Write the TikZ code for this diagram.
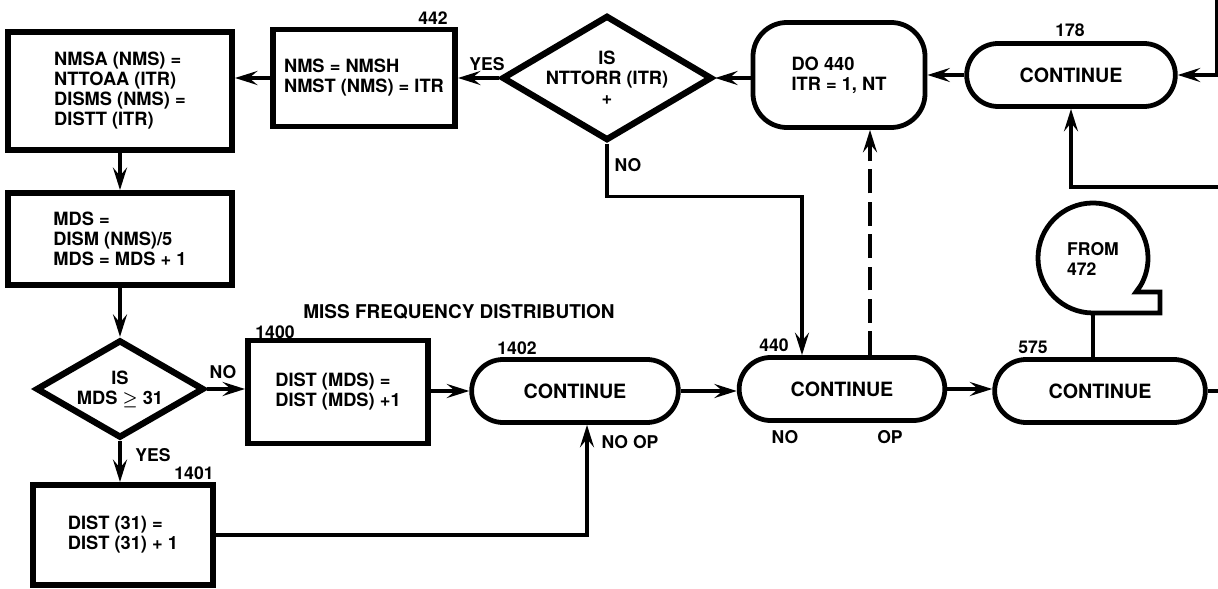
\documentclass[tikz,border=0pt]{standalone}
\usepackage{fontspec}
\setmainfont{TeX Gyre Heros}
\usepackage{tikz}
\usetikzlibrary{arrows.meta,shapes.geometric,shapes.misc}

\begin{document}
\begin{tikzpicture}[x=0.025cm,y=-0.025cm,
  every node/.style={font=\bfseries\fontsize{12.5}{14}\selectfont},
  txt/.style={font=\bfseries\fontsize{13}{14.2}\selectfont},
  procbox/.style={draw,line width=4.2pt,inner sep=0pt,align=left,txt},
  decision/.style={draw,diamond,line width=4.5pt,inner sep=0pt},
  term/.style={draw,rounded rectangle,line width=3.4pt,minimum height=1.575cm,font=\bfseries\fontsize{14}{15}\selectfont},
  loopbox/.style={draw,rounded corners=0.85cm,line width=3.4pt,align=left,txt},
  flow/.style={line width=2.2pt,-{Stealth[length=16pt,width=10pt,inset=6pt]}},
  link/.style={line width=2.2pt}]
  \useasboundingbox (0,0) rectangle (1218,589);
  \node[procbox,minimum width=5.6cm,minimum height=2.95cm] (nmsa) at (120,91) {NMSA (NMS) =\\NTTOAA (ITR)\\DISMS (NMS) =\\DISTT (ITR)};
  \node[procbox,minimum width=4.55cm,minimum height=2.425cm] (nmsh) at (364,78) {NMS = NMSH\\NMST (NMS) = ITR};
  \node[decision,minimum width=5.25cm,minimum height=3.125cm,label={[align=center,txt]center:IS\\NTTORR (ITR)\\+}] (isnt) at (607,78) {};
  \node[loopbox,minimum width=4.3cm,minimum height=2.625cm] (do440) at (839,75) {DO 440\\ITR = 1, NT};
  \node[term,minimum width=5.45cm] (c178) at (1071,75) {CONTINUE};
  \node[procbox,minimum width=5.6cm,minimum height=2.3cm] (mds) at (120,239) {MDS =\\DISM (NMS)/5\\MDS = MDS + 1};
  \node[decision,minimum width=4.2cm,minimum height=2.45cm,label={[align=center,txt]center:IS\\MDS {\boldmath$\geq$} 31}] (ismds) at (120,389) {};
  \node[procbox,minimum width=4.5cm,minimum height=2.575cm] (d1400) at (338,392) {DIST (MDS) =\\DIST (MDS) +1};
  \node[procbox,minimum width=4.5cm,minimum height=2.5cm] (d1401) at (123,535) {DIST (31) =\\DIST (31) + 1};
  \node[term,minimum width=5.4cm] (c1402) at (575,391) {CONTINUE};
  \node[term,minimum width=5.375cm] (c440) at (842,389) {CONTINUE};
  \node[term,minimum width=5.5cm] (c575) at (1100,391) {CONTINUE};
  \node[align=left] (from472) at (1093,259) {FROM\\472};
  \draw[line width=3.4pt] (1093,313) arc[start angle=-90,end angle=-390,radius=1.375cm]
    -- (1136,292) -- (1160,292) -- (1160,313) -- cycle;

  \node (n442) at (433,18) {442};
  \node (yes1) at (487,64) {YES};
  \node (no1) at (628,165) {NO};
  \node (n178) at (1070,30) {178};
  \node (n440) at (774,345) {440};
  \node (no440) at (785,437) {NO};
  \node (op440) at (890,437) {OP};
  \node (n575) at (1033,347) {575};
  \node[font=\bfseries\fontsize{13.5}{15}\selectfont] (title) at (459,312) {MISS FREQUENCY DISTRIBUTION};
  \node (n1400) at (275,332) {1400};
  \node (n1402) at (517,348) {1402};
  \node (no2) at (223,372) {NO};
  \node (yes2) at (153,455) {YES};
  \node (n1401) at (194,473) {1401};
  \node (noop) at (630,442) {NO OP};

  \coordinate (top178) at (1217,0);
  \coordinate (ret178) at (1218,187);
  \coordinate (out575) at (1218,391);
  \coordinate (from472bot) at (1093,313);

  \draw[flow] (nmsh.west) -- (nmsh.west -| nmsa.east);
  \draw[flow] (isnt.west) -- (isnt.west -| nmsh.east);
  \draw[flow] (do440.west |- isnt.east) -- (isnt.east);
  \draw[flow] (c178.west) -- (c178.west -| do440.east);
  \draw[flow] (top178) |- (c178.east);
  \draw[flow] (ret178) -| (c178.south);
  \draw[flow] (isnt.south) -- ++(0,53) -| ([xshift=-1cm]c440.north);
  \draw[flow,dash pattern=on 17pt off 6pt] ([xshift=0.7cm]c440.north) -- ([xshift=0.7cm]c440.north |- do440.south);
  \draw[flow] (nmsa.south) -- (mds.north);
  \draw[flow] (mds.south) -- (ismds.north);
  \draw[flow] (ismds.east) -- (ismds.east -| d1400.west);
  \draw[flow] (ismds.south) -- (ismds.south |- d1401.north);
  \draw[flow] (d1400.east |- c1402.west) -- (c1402.west);
  \draw[flow] (d1401.east) -| ([xshift=0.3cm]c1402.south);
  \draw[flow] (c1402.east) -- (c1402.east -| c440.west);
  \draw[flow] (c440.east) -- (c440.east -| c575.west);
  \draw[link] (c575.east) -- (out575);
  \draw[link] (from472bot) -- (from472bot |- c575.north);
\end{tikzpicture}
\end{document}
